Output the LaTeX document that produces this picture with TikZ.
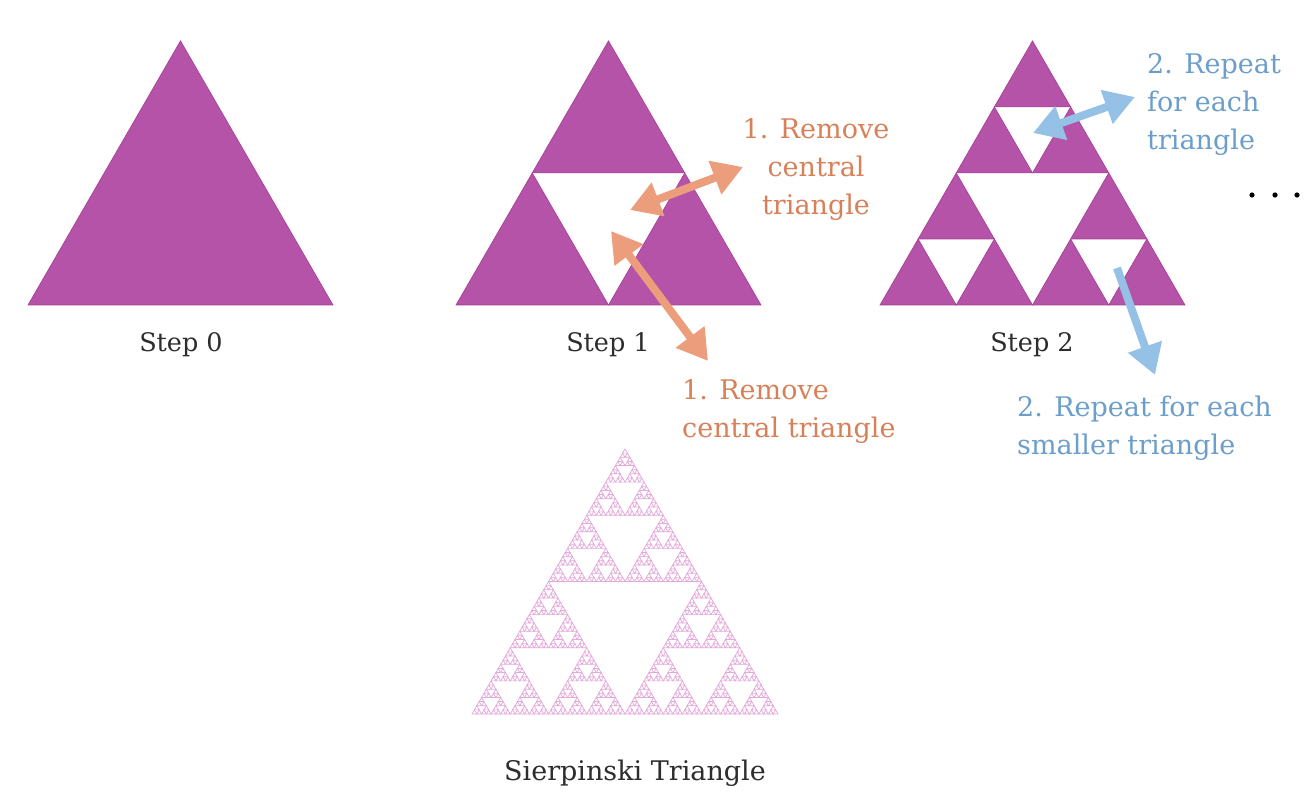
\documentclass[tikz,border=0pt]{standalone}
\usepackage{fontspec}
\setmainfont{DejaVu Serif}
\usetikzlibrary{arrows.meta}
\definecolor{triPurple}{RGB}{181,83,168}
\definecolor{triEdge}{RGB}{165,60,150}
\definecolor{fracPink}{RGB}{228,168,218}
\definecolor{noteOrange}{RGB}{216,128,88}
\definecolor{arrowOrange}{RGB}{236,158,124}
\definecolor{noteBlue}{RGB}{108,158,204}
\definecolor{arrowBlue}{RGB}{150,193,230}
\definecolor{stepGray}{RGB}{45,45,45}
\def\tside{305}
% recursive triangle: depth, x, y (base, left corner), side, style
\newcommand\sierpinski[5]{%
    \ifnum#1>0
        \begingroup
            \pgfmathsetmacro\hs{#4/2}%
            \pgfmathsetmacro\xr{#2+\hs}%
            \pgfmathsetmacro\xm{#2+\hs/2}%
            \pgfmathsetmacro\yt{#3-0.8660254*\hs}%
            \edef\subtri{%
                \noexpand\sierpinski{\the\numexpr#1-1\relax}{#2}{#3}{\hs}{#5}%
                \noexpand\sierpinski{\the\numexpr#1-1\relax}{\xr}{#3}{\hs}{#5}%
                \noexpand\sierpinski{\the\numexpr#1-1\relax}{\xm}{\yt}{\hs}{#5}%
            }\subtri
        \endgroup
    \else
        \path[#5] (#2,#3) -- ++(#4,0) -- ++(-#4/2,-0.8660254*#4) -- cycle;
    \fi
}
\tikzset{
    solidtri/.style = {fill=triPurple, draw=triEdge, line width=0.6pt, line join=miter},
    outlinetri/.style = {draw=fracPink, line width=0.7pt},
    steplabel/.style = {text=stepGray, inner sep=0pt, font=\fontsize{25.5}{30}\selectfont},
    note/.style = {inner sep=0pt, font=\fontsize{27}{38}\selectfont},
    orangenote/.style = {note, text=noteOrange},
    bluenote/.style = {note, text=noteBlue},
    bigarrow/.style = {line width=8pt, >={Triangle[width=34pt,length=30pt]}},
}
\begin{document}
\begin{tikzpicture}[x=1pt, y=-1pt]
    \useasboundingbox[fill=white] (0,0) rectangle (1312,810);
    % Place the triangles
    \sierpinski{0}{28}{305}{\tside}{solidtri}
    \sierpinski{1}{456}{305}{\tside}{solidtri}
    \sierpinski{2}{880}{305}{\tside}{solidtri}
    \sierpinski{6}{472}{714}{306}{outlinetri}
    % Captions
    \node[steplabel] (s0) at (181,345) {Step 0};
    \node[steplabel] (s1) at (608,345) {Step 1};
    \node[steplabel] (s2) at (1032,345) {Step 2};
    \node[steplabel, font=\fontsize{27}{32}\selectfont] (sier) at (635,773) {Sierpinski Triangle};
    % Notes
    \node[orangenote, align=center] (rmA) at (816,169) {1. Remove\\central\\triangle};
    \node[orangenote, align=left, anchor=west] (rmB) at (682,411) {1. Remove\\central triangle};
    \node[bluenote, align=left, anchor=west] (rpA) at (1147,104) {2. Repeat\\for each\\triangle};
    \node[bluenote, align=left, anchor=west] (rpB) at (1017,428) {2. Repeat for each\\smaller triangle};
    % Arrow ends
    \coordinate (gapA) at (630,210);
    \coordinate (gapB) at (611,231);
    \coordinate (tipA) at (743,167);
    \coordinate (tipB) at (708,361);
    \coordinate (gapC) at (1033,133);
    \coordinate (tipC) at (1135,97);
    \coordinate (gapD) at (1117,268);
    \coordinate (tipD) at (1155,375);
    % Draw connections
    \begin{scope}[bigarrow]
        \draw[<->, draw=arrowOrange, fill=arrowOrange] (gapA) -- (tipA);
        \draw[<->, draw=arrowOrange, fill=arrowOrange] (gapB) -- (tipB);
        \draw[<->, draw=arrowBlue, fill=arrowBlue] (gapC) -- (tipC);
        \draw[->, draw=arrowBlue, fill=arrowBlue] (gapD) -- (tipD);
    \end{scope}
    % More steps
    \foreach \x in {1252, 1275, 1297}{
        \fill[black] (\x,195) circle (2.6);
    }
\end{tikzpicture}
\end{document}
